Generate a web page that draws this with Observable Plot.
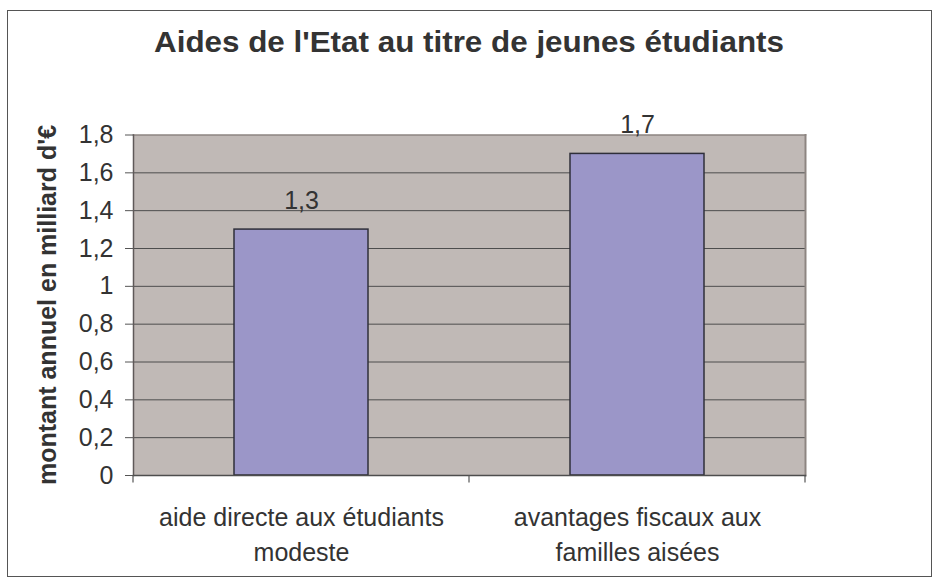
<!DOCTYPE html>
<html>
<head>
<meta charset="utf-8">
<script src="https://cdn.jsdelivr.net/npm/d3@7"></script>
<script src="https://cdn.jsdelivr.net/npm/@observablehq/plot@0.6"></script>
<style>
  html, body { margin: 0; padding: 0; background: #ffffff; }
  #wrap { position: relative; width: 940px; height: 585px; overflow: hidden; }
  #border { position: absolute; left: 7px; top: 10px; width: 925px; height: 567px; border: 1px solid #555; box-sizing: border-box; }
  #chart { position: absolute; left: 0; top: 0; }
  #chart svg { display: block; }
</style>
</head>
<body>
<div id="wrap"><div id="border"></div><div id="chart"></div></div>
<script>
// ---- data ----
const categories = ["aide directe aux étudiants modeste", "avantages fiscaux aux familles aisées"];
const categoryLabels = ["aide directe aux étudiants\nmodeste", "avantages fiscaux aux\nfamilles aisées"];
const values = [1.3, 1.7];
const valueLabels = ["1,3", "1,7"];
const yTicks = [0, 0.2, 0.4, 0.6, 0.8, 1, 1.2, 1.4, 1.6, 1.8];
const yTickLabels = ["0", "0,2", "0,4", "0,6", "0,8", "1", "1,2", "1,4", "1,6", "1,8"];
const title = "Aides de l'Etat au titre de jeunes étudiants";
const yLabel = "montant annuel en milliard d'€";

const data = categories.map((c, i) => ({cat: c, value: values[i], label: valueLabels[i]}));
const font = "'Liberation Sans', Arial, Helvetica, sans-serif";

const chart = Plot.plot({
  width: 940,
  height: 585,
  marginLeft: 133,
  marginRight: 135,
  marginTop: 134.5,
  marginBottom: 110,
  style: {fontFamily: font, background: "transparent", overflow: "visible"},
  x: {domain: categories, paddingInner: 0.6, paddingOuter: 0.3, label: null},
  y: {domain: [0, 1.8], label: null},
  marks: [
    Plot.frame({fill: "#c0b9b6", stroke: null}),
    Plot.ruleY(yTicks.slice(1, -1), {stroke: "#4d4d4d", strokeWidth: 1}),
    Plot.frame({anchor: "top", stroke: "#8d8581", strokeWidth: 1.5}),
    Plot.frame({anchor: "right", stroke: "#8d8581", strokeWidth: 2}),
    Plot.barY(data, {x: "cat", y: "value", fill: "#9b96c8", stroke: "#2f2f3a", strokeWidth: 1.5}),
    Plot.frame({anchor: "left", stroke: "#5f5959", strokeWidth: 1.5}),
    Plot.frame({anchor: "bottom", stroke: "#4d4d4d", strokeWidth: 1.5}),
    Plot.text(data, {x: "cat", y: "value", text: "label", lineAnchor: "bottom", dy: -20.5, fontSize: 25, fill: "#333"}),
    Plot.axisY({
      ticks: yTicks,
      tickFormat: d => yTickLabels[yTicks.indexOf(d)],
      tickSize: 8,
      tickPadding: 12,
      fontSize: 25,
      fill: "#333",
      stroke: "#555",
      label: null
    }),
    Plot.axisX({
      tickFormat: d => categoryLabels[categories.indexOf(d)],
      tickSize: 0,
      tickPadding: 25.5,
      fontSize: 25,
      lineHeight: 1.4,
      fill: "#333",
      label: null
    })
  ]
});

document.getElementById("chart").appendChild(chart);

// post-processing: category boundary ticks, title, y label
const svg = d3.select(chart);
const xs = chart.scale("x");
const ys = chart.scale("y");
const gap = (xs.step - xs.bandwidth) / 2;
const bounds = categories.map(c => xs.apply(c) - gap);
bounds.push(xs.apply(categories[categories.length - 1]) + xs.bandwidth + gap);
const y0 = ys.apply(0);
svg.append("g").selectAll("line").data(bounds).join("line")
  .attr("x1", d => d).attr("x2", d => d)
  .attr("y1", y0).attr("y2", y0 + 7.5)
  .attr("stroke", "#555").attr("stroke-width", 1.2);

svg.append("text")
  .attr("x", 469).attr("y", 52)
  .attr("text-anchor", "middle")
  .attr("font-family", font).attr("font-weight", "bold").attr("font-size", 30)
  .attr("fill", "#333")
  .attr("textLength", 630).attr("lengthAdjust", "spacingAndGlyphs")
  .text(title);

svg.append("text")
  .attr("transform", "translate(56,305) rotate(-90)")
  .attr("text-anchor", "middle")
  .attr("font-family", font).attr("font-weight", "bold").attr("font-size", 25)
  .attr("fill", "#333")
  .text(yLabel);
</script>
</body>
</html>
